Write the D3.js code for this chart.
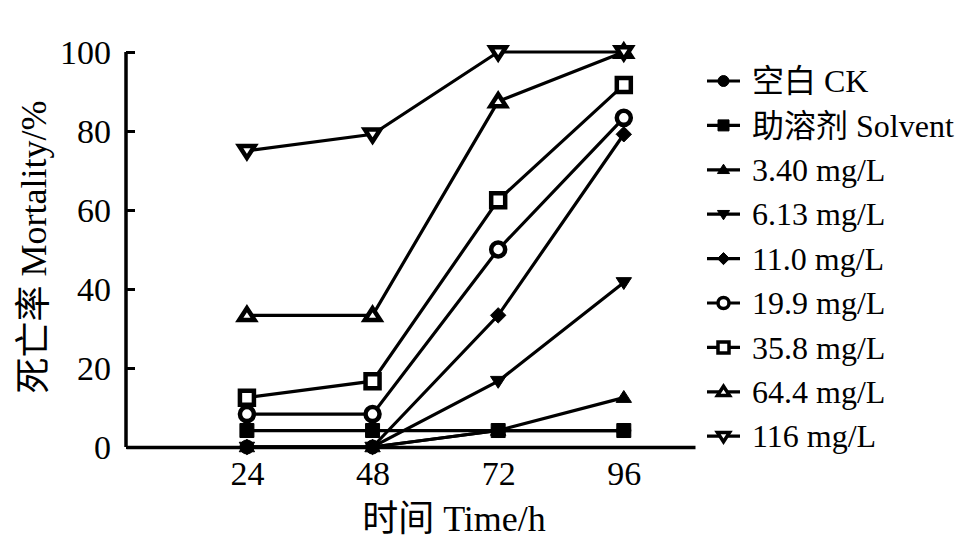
<!DOCTYPE html>
<html><head><meta charset="utf-8">
<script src="https://cdn.jsdelivr.net/npm/d3@7"></script>
<style>
html,body{margin:0;padding:0;background:#fff;}
svg{display:block;}
text{font-family:"Liberation Serif","Times New Roman","Noto Sans CJK SC",serif;fill:#000;}
</style></head>
<body>
<svg id="chart" width="972" height="542"></svg>
<script>
const times = [24, 48, 72, 96];
const seriesNames = ["空白 CK", "助溶剂 Solvent", "3.40 mg/L", "6.13 mg/L", "11.0 mg/L", "19.9 mg/L", "35.8 mg/L", "64.4 mg/L", "116 mg/L"];
const markerTypes = ["circleFilled", "squareFilled", "triUpFilled", "triDownFilled", "diamondFilled", "circleOpen", "squareOpen", "triUpOpen", "triDownOpen"];
const ckValues = [0, 0, 4.17, 4.17];
const solventValues = [4.17, 4.17, 4.17, 4.17];
const c340Values = [0, 0, 4.17, 12.5];
const c613Values = [0, 0, 16.67, 41.67];
const c110Values = [0, 0, 33.33, 79.17];
const c199Values = [8.33, 8.33, 50, 83.33];
const c358Values = [12.5, 16.67, 62.5, 91.67];
const c644Values = [33.33, 33.33, 87.5, 100];
const c116Values = [75, 79.17, 100, 100];
const yTicks = [0, 20, 40, 60, 80, 100];
const xTicks = [24, 48, 72, 96];
const allValues = [ckValues, solventValues, c340Values, c613Values, c110Values, c199Values, c358Values, c644Values, c116Values];

const FONT = '"Liberation Serif","Times New Roman","Noto Sans CJK SC",serif';
const svg = d3.select("#chart");
const x = d3.scaleLinear().domain([0.9, 109.6]).range([126, 695]);
const y = d3.scaleLinear().domain([0, 100]).range([447, 52]);

function markerPath(type, s) {
  const base = type.replace(/Filled|Open/, "");
  const h = s / 2;
  if (base === "circle") return d3.symbol(d3.symbolCircle, Math.PI * h * h)();
  if (base === "square") return `M${-h},${-h}H${h}V${h}H${-h}Z`;
  if (base === "diamond") return `M0,${-h * 1.1}L${h * 1.1},0L0,${h * 1.1}L${-h * 1.1},0Z`;
  const th = s * 0.85;
  if (base === "triUp") return `M0,${-th * 0.6}L${h * 1.1},${th * 0.4}L${-h * 1.1},${th * 0.4}Z`;
  if (base === "triDown") return `M0,${th * 0.6}L${h * 1.1},${-th * 0.4}L${-h * 1.1},${-th * 0.4}Z`;
}
function drawMarker(g, type, s, sw) {
  const open = type.endsWith("Open");
  g.append("path").attr("d", markerPath(type, s))
    .attr("fill", open ? "#fff" : "#000")
    .attr("stroke", "#000")
    .attr("stroke-width", open ? sw : 1)
    .attr("stroke-linejoin", "miter");
}

// axes
const yAxis = d3.axisLeft(y).tickValues(yTicks).tickSize(-9).tickPadding(16).tickFormat(d3.format("d"));
const gy = svg.append("g").attr("transform", "translate(126,0)").call(yAxis).attr("font-family", FONT);
gy.select(".domain").attr("d", `M0,${y(100)}V${y(0)}`).attr("stroke-width", 3.5);
gy.selectAll(".tick line").attr("stroke-width", 3);
gy.selectAll(".tick text").attr("font-size", 34).attr("x", -15).attr("dy", "0.34em")
  .style("font-family", FONT);

const xAxis = d3.axisBottom(x).tickValues(xTicks).tickSize(0).tickPadding(14);
const gx = svg.append("g").attr("transform", `translate(0,${y(0)})`).call(xAxis).attr("font-family", FONT);
gx.select(".domain").attr("stroke-width", 3.5);
gx.selectAll(".tick text").attr("font-size", 34).attr("dy", "0.7em")
  .style("font-family", FONT);

// titles
svg.append("text").attr("x", 454).attr("y", 531).attr("text-anchor", "middle")
  .attr("font-size", 36).style("font-family", FONT).text("时间 Time/h");
svg.append("text").attr("transform", "translate(46,247) rotate(-90)").attr("text-anchor", "middle")
  .attr("font-size", 36).style("font-family", FONT).text("死亡率 Mortality/%");

// series
const line = d3.line().x((d, i) => x(times[i])).y(d => y(d));
const plot = svg.append("g");
allValues.forEach((vals) => {
  plot.append("path").attr("d", line(vals)).attr("fill", "none")
    .attr("stroke", "#000").attr("stroke-width", 3.2);
});
allValues.forEach((vals, si) => {
  vals.forEach((v, i) => {
    const g = plot.append("g").attr("transform", `translate(${x(times[i])},${y(v)})`);
    drawMarker(g, markerTypes[si], 14, 4.5);
  });
});

// legend
const leg = svg.append("g");
seriesNames.forEach((name, i) => {
  const cy = 81 + i * 44.4;
  const g = leg.append("g").attr("transform", `translate(0,${cy})`);
  g.append("line").attr("x1", 707).attr("x2", 740).attr("y1", 0).attr("y2", 0)
    .attr("stroke", "#000").attr("stroke-width", 3.2);
  const m = g.append("g").attr("transform", "translate(723.5,0)");
  drawMarker(m, markerTypes[i], 11, 3.5);
  g.append("text").attr("x", 752).attr("y", 0).attr("dy", "0.35em")
    .attr("font-size", 32).style("font-family", FONT).text(name);
});
</script>
</body></html>
